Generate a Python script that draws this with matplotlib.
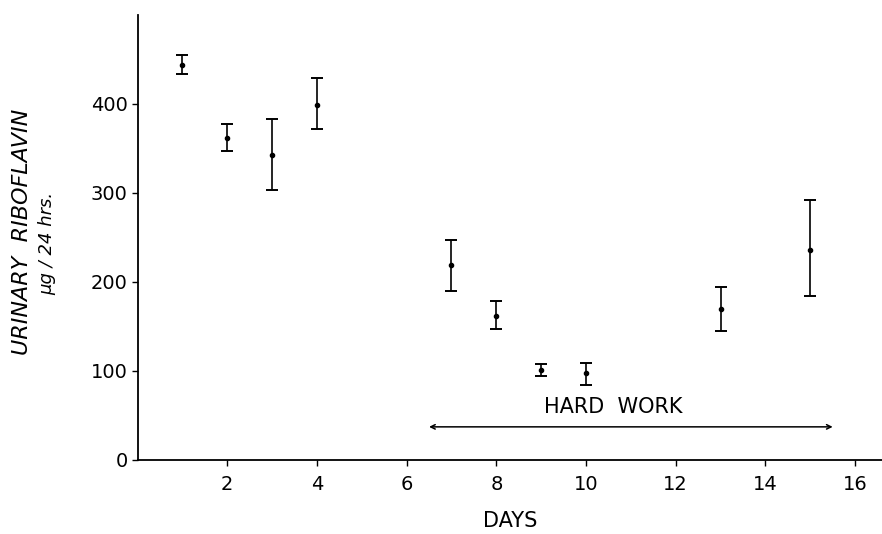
import matplotlib.pyplot as plt

# daily urinary riboflavin (ug / 24 hrs), mean with range
days = [1, 2, 3, 4, 7, 8, 9, 10, 13, 15]
mean = [444, 362, 343, 399, 219, 162, 101, 97, 169, 236]
low = [434, 347, 303, 372, 190, 147, 94, 84, 145, 184]
high = [455, 377, 383, 429, 247, 178, 108, 109, 194, 292]

work_start = 6.5
work_end = 15.5

err = [[m - l for m, l in zip(mean, low)], [h - m for m, h in zip(mean, high)]]

plt.rcParams['font.family'] = ['DejaVu Sans']

fig = plt.figure(figsize=(8.82, 5.34), dpi=100)
ax = fig.add_axes([0.156, 0.139, 0.844, 0.833])

ax.errorbar(days, mean, yerr=err, fmt='o', color='black', markersize=3,
            elinewidth=1.2, capsize=4, capthick=1.4)

# hard work period
ax.annotate('', xy=(work_start, 37), xytext=(work_end, 37),
            arrowprops=dict(arrowstyle='<->', color='black', lw=1.1,
                            mutation_scale=8, shrinkA=0, shrinkB=0))
ax.text(10.6, 48, 'HARD  WORK', ha='center', va='bottom', fontsize=15)

ax.set_xlim(0, 16.6)
ax.set_ylim(0, 500)
ax.set_xticks([2, 4, 6, 8, 10, 12, 14, 16])
ax.set_yticks([0, 100, 200, 300, 400])
ax.tick_params(axis='both', labelsize=14, width=1, length=4, direction='out')
ax.tick_params(axis='x', pad=7)
ax.tick_params(axis='y', pad=3)

ax.spines['top'].set_visible(False)
ax.spines['right'].set_visible(False)
ax.spines['left'].set_linewidth(1.3)
ax.spines['bottom'].set_linewidth(1.3)

ax.set_xlabel('DAYS', fontsize=15, labelpad=12)
fig.text(0.025, 0.565, 'URINARY  RIBOFLAVIN', rotation=90, ha='center', va='center',
         fontsize=16, style='italic')
fig.text(0.054, 0.545, 'μg / 24 hrs.', rotation=90, ha='center', va='center',
         fontsize=13, style='italic')

fig.savefig('out.png', dpi=100)
